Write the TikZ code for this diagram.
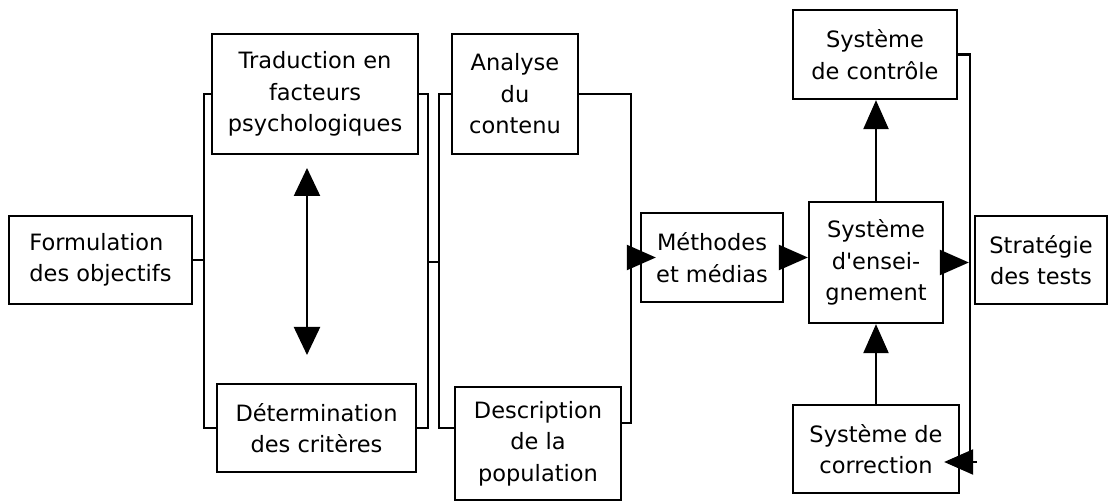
\documentclass[tikz,border=0pt]{standalone}
\usepackage{fontspec}
\setmainfont{DejaVu Sans}
\newfontfamily\boxfont{DejaVu Sans}
\usetikzlibrary{arrows.meta}
\begin{document}
\begin{tikzpicture}[x=1pt,y=-1pt,
  line width=2.3pt,
  box/.style={draw, line width=2.3pt, inner sep=0pt, align=center,
    font=\boxfont\fontsize{22.5}{31.5}\selectfont},
  arr/.style={-{Triangle[length=29pt,width=25pt]}},
  dbl/.style={{Triangle[length=28pt,width=26pt]}-{Triangle[length=28pt,width=26pt]}}]
\fill[white] (0,0) rectangle (1109,502);
\useasboundingbox (0,0) rectangle (1109,502);
% boxes
\node[box, minimum width=183pt, minimum height=88pt, align=left] (form) at (100.5,260) {Formulation\\des objectifs};
\node[box, minimum width=206pt, minimum height=120pt] (trad) at (315,94) {Traduction en\\facteurs\\psychologiques};
\node[box, minimum width=199pt, minimum height=88pt] (det) at (316.5,428) {Détermination\\des critères};
\node[box, minimum width=126pt, minimum height=120pt] (ana) at (515,94) {Analyse\\du\\contenu};
\node[box, minimum width=166pt, minimum height=113pt] (desc) at (538,443.5) {Description\\de la\\population};
\node[box, minimum width=142pt, minimum height=89pt] (meth) at (712,257.5) {Méthodes\\et médias};
\node[box, minimum width=164pt, minimum height=89pt] (ctrl) at (875,54.5) {Système\\de contrôle};
\node[box, minimum width=134pt, minimum height=121pt] (ens) at (876,262.5) {Système\\d'ensei-\\gnement};
\node[box, minimum width=166pt, minimum height=88pt] (corr) at (876,449) {Système de\\correction};
\node[box, minimum width=132pt, minimum height=88pt] (strat) at (1041,260) {Stratégie\\des tests};
% coordinates
\coordinate (b1) at (204,264);
\coordinate (b2) at (428,262);
\coordinate (b3) at (439,262);
\coordinate (b5) at (631,423);
\coordinate (da) at (307,168);
\coordinate (db) at (307,355);
\coordinate (fb) at (970,462);
\coordinate (fe) at (977,462);
% left bracket
\draw (trad.west) -| (b1) |- (det.west);
\draw (form.east) -- (form.east -| b1);
% middle brackets
\draw (trad.east) -| (b2) |- (det.east);
\draw (b2) -- (b3);
\draw (ana.west) -| (b3) |- (desc.west |- det.east);
% right bracket
\draw (ana.east) -| (b5) -- (desc.east |- b5);
\draw[arr, shorten >=-16pt] (b5 |- meth.west) -- (meth.west);
% double arrow
\draw[dbl] (da) -- (db);
% right part
\draw[arr] (meth.east) -- (meth.east -| ens.west);
\draw[arr] (ens.north) -- (ens.north |- ctrl.south);
\draw[arr] (corr.north) -- (ens.south);
\draw[arr, shorten >=5pt] (ens.east) -- (ens.east -| strat.west);
\draw (ctrl.east) -| (fb) -- (fe);
\draw[arr, shorten >=-16pt] (fe) -- (corr.east |- fe);
\end{tikzpicture}
\end{document}
